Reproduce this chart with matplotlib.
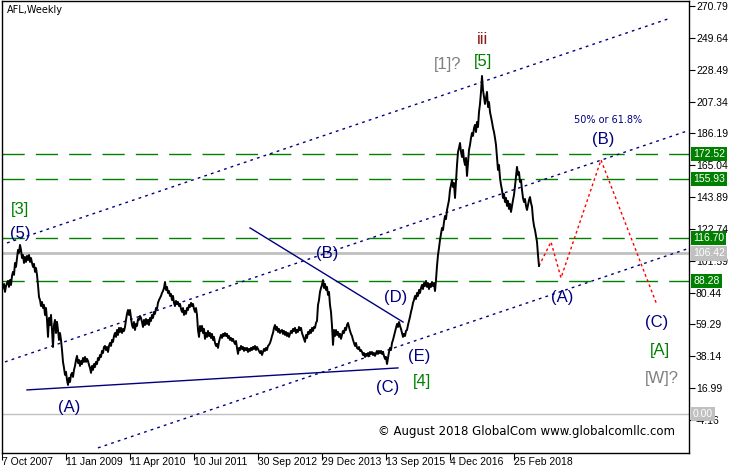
import matplotlib
matplotlib.use('Agg')
import matplotlib.pyplot as plt
import matplotlib.transforms as mtransforms

# weekly closes (one value per bar)
price = [
 82.2, 84.2, 86.2, 80.9, 84.8, 86.8, 88.2, 84.2, 88.8, 85.5, 91.5, 94.2, 92.2, 100.1, 97.5, 103.4, 108.8, 106.8, 112.1, 108.8,
 103.4, 105.4, 100.1, 104.1, 100.8, 104.8, 102.1, 105.4, 100.8, 103.4, 100.1, 97.5, 99.5, 94.2, 96.8, 92.2, 85.5, 77.5, 75.5, 71.5,
 74.2, 70.2, 72.2, 65.6, 70.2, 62.3, 51.0, 63.6, 58.9, 65.6, 55.6, 44.3, 58.9, 62.3, 53.6, 61.0, 55.6, 49.0, 53.6, 49.0,
 42.3, 34.4, 30.4, 25.8, 27.8, 22.4, 19.1, 23.8, 21.1, 25.8, 27.1, 24.4, 29.1, 31.7, 35.7, 38.4, 33.7, 35.7, 31.7, 35.0,
 33.0, 37.0, 34.4, 37.7, 34.4, 36.4, 35.0, 32.4, 30.4, 27.1, 31.7, 29.1, 33.0, 31.0, 34.4, 33.0, 37.0, 35.7, 39.0, 37.7,
 41.7, 40.3, 44.3, 45.0, 42.3, 44.3, 41.0, 45.0, 47.0, 45.0, 49.0, 47.7, 51.6, 53.6, 51.0, 55.6, 52.3, 57.0, 54.3, 57.0,
 53.6, 56.3, 54.9, 57.6, 62.3, 66.3, 68.9, 65.6, 68.9, 63.6, 58.9, 57.0, 60.9, 55.6, 59.6, 58.3, 62.9, 62.3, 64.9,
 63.6,
 60.9, 57.6, 62.3, 58.9, 62.9, 59.6, 62.3, 58.9, 63.6, 61.6, 65.6, 63.6, 67.6, 66.3, 70.2, 69.6, 73.6, 75.5, 76.9, 78.2,
 80.2, 81.5, 83.5, 87.5, 82.2, 84.2, 80.2, 81.5, 78.2, 79.5, 75.5, 78.2, 73.6, 71.5, 74.9, 72.9, 74.2, 71.5, 72.9, 69.6,
 67.6, 70.2, 65.6, 68.2, 66.3, 70.2, 68.9, 72.2, 70.9, 73.6, 71.5, 72.9, 69.6, 67.6, 70.2, 65.6, 55.6, 51.0, 58.3, 55.0,
 58.3, 53.6, 56.3, 49.7, 53.6, 51.0, 55.0, 51.6, 53.6, 50.3, 53.0, 49.0, 51.0, 47.0, 45.0, 46.3, 43.7, 47.7, 50.3, 52.3,
 50.3, 53.0, 51.6, 53.6, 51.6, 53.0, 50.3, 51.6, 49.0, 50.3, 48.3, 49.7, 47.7, 46.3, 48.3, 43.7, 39.7, 43.7, 42.3, 45.0,
 43.0, 44.3, 41.7, 43.7, 42.3, 43.7, 41.0, 43.0, 41.7, 43.7, 42.3, 44.3, 43.0, 45.0, 42.3, 44.3, 43.0, 41.7, 40.3, 41.7,
 39.0, 41.0, 43.0, 41.7, 43.7, 42.3, 45.0, 45.7, 47.0, 49.0, 51.6, 53.6, 57.0, 58.9, 55.6, 57.6, 54.3, 56.3, 53.6,
 55.0,
 55.6, 53.0, 55.0, 52.3, 54.3, 51.6, 53.6, 51.0, 53.0, 55.0, 53.6, 56.3, 55.0, 57.0, 53.6, 55.6, 54.3, 57.6, 55.6, 57.0,
 53.6, 51.6, 49.7, 47.7, 52.3, 50.3, 54.3, 53.0, 55.6, 53.6, 57.0, 55.0, 57.6, 57.0, 60.3, 61.6, 72.2, 75.5, 80.9, 83.5,
 85.5, 88.8, 83.5, 86.2, 82.2, 84.2, 78.9, 80.9, 72.2, 67.6, 58.3, 45.7, 55.6, 51.6, 55.6, 52.3, 54.3, 51.0, 53.0, 49.7,
 52.3, 55.0, 53.6, 57.0, 55.6, 58.9, 60.3, 57.6, 55.0, 53.0, 51.6, 49.0, 47.0, 45.0, 47.0, 43.7, 43.0, 44.3, 41.7, 42.3,
 41.0, 39.0, 40.3, 37.7, 39.7, 38.4, 40.3, 38.4, 41.0, 39.7, 41.0, 39.0, 40.3, 38.4, 40.3, 41.7, 39.7, 41.7, 40.3, 41.7,
 39.7, 41.0, 38.4, 36.4, 37.7, 33.0, 37.0, 41.0, 43.7, 42.3, 47.0, 49.0, 51.6, 54.3, 57.0, 59.6, 57.6, 60.9, 58.3, 56.3,
 53.6, 51.0, 53.0, 51.6, 55.0, 55.6, 58.9, 61.6, 64.3, 67.6, 70.2, 73.6, 75.5, 78.2, 76.2, 80.2, 78.2, 82.2, 80.2, 83.5,
 85.5, 82.8, 86.8, 84.8,
 88.2, 84.2, 86.8, 82.8, 86.2, 84.2, 87.5, 84.8, 86.8, 81.5, 88.8, 98.1, 105.4, 110.1, 115.4, 119.4, 123.4, 122.0, 127.3, 131.3,
 129.3, 135.3, 138.6, 141.9, 148.6, 151.9, 155.2, 150.6, 153.2, 143.3, 153.9, 165.2, 173.8, 176.5, 179.8, 173.8, 170.5, 175.2, 168.5, 165.2,
 169.9, 157.9, 166.5, 175.2, 178.5, 183.1, 186.5, 184.5, 189.8, 191.8, 187.1, 193.8, 190.4, 200.4, 205.7, 213.7, 224.3, 215.0, 210.4, 205.7,
 209.7, 213.7, 203.7, 207.0, 200.4, 197.1, 193.8, 189.8, 187.1, 183.1, 178.5, 169.9, 161.9, 165.2, 156.6, 151.9, 148.6, 143.3, 145.9, 140.6,
 143.3, 138.0, 141.3, 136.0, 139.3, 134.0, 138.0, 141.9, 145.3, 151.2, 157.9, 163.9, 158.6, 160.5, 153.9, 155.2, 148.6, 143.3, 140.6, 142.6,
 138.0, 135.3, 138.6, 141.9, 143.9, 140.0, 137.3, 129.3, 124.7, 122.0, 118.1, 114.1, 105.4, 98.1,
]
bars = list(range(len(price)))

x_tick_pos = [0, 64, 128, 192, 256, 320, 384, 448, 512]
x_tick_labels = ['7 Oct 2007', '11 Jan 2009', '11 Apr 2010', '10 Jul 2011', '30 Sep 2012',
                 '29 Dec 2013', '13 Sep 2015', '4 Dec 2016', '25 Feb 2018']
y_ticks = [270.79, 249.64, 228.49, 207.34, 186.19, 165.04, 143.89, 122.74,
           101.59, 80.44, 59.29, 38.14, 16.99, -4.16]

levels_green = [172.52, 155.93, 116.70, 88.28]
levels_gray = [106.42, 0.00]

chan_upper_x, chan_upper_y = [5, 666], [113.4, 262.2]
chan_mid_x, chan_mid_y = [3, 688], [34.4, 188.4]
chan_low_x, chan_low_y = [96, 688], [-22.7, 110.1]
base_x, base_y = [25, 396], [15.8, 30.4]
bd_x, bd_y = [248, 401], [123.4, 60.9]
proj_x = [537, 549, 559, 599, 655]
proj_y = [98.1, 114.1, 90.2, 168.5, 72.2]

NAVY = '#000080'
GREEN = '#008000'
GRAY = '#808080'
labels = [
    ('[3]', 18, 135.3, GREEN), ('(5)', 18, 120.0, NAVY), ('(A)', 67, 3.8, NAVY),
    ('(B)', 325, 106.1, NAVY), ('(C)', 386, 17.1, NAVY), ('(D)', 394, 76.9, NAVY),
    ('(E)', 417, 37.7, NAVY), ('[4]', 420, 21.1, GREEN), ('[1]?', 446, 231.6, GRAY),
    ('[5]', 481, 233.6, GREEN), ('iii', 481, 248.2, '#8b1a1a'), ('(B)', 601, 181.8, NAVY),
    ('(A)', 560, 76.9, NAVY), ('(C)', 655, 60.3, NAVY), ('[A]', 658, 42.3, GREEN),
    ('[W]?', 660, 23.7, GRAY),
]

TICKFONT = 'Liberation Sans'

fig = plt.figure(figsize=(7.32, 4.70), dpi=100)
ax = fig.add_axes([2/732, 1 - 453/470, 687/732, 452/470])
ax.set_xlim(0, 687)
ax.set_ylim(-26.1, 274.1)

for lv in levels_green:
    ax.axhline(lv, color=GREEN, lw=1, ls=(0, (16, 8)), zorder=1)
for lv in levels_gray:
    ax.axhline(lv, color='#c0c0c0', lw=2 if lv > 0 else 1, zorder=1)

dot = (0, (2, 3))
ax.plot(chan_upper_x, chan_upper_y, color=NAVY, lw=1, ls=dot, zorder=2)
ax.plot(chan_mid_x, chan_mid_y, color=NAVY, lw=1, ls=dot, zorder=2)
ax.plot(chan_low_x, chan_low_y, color=NAVY, lw=1, ls=dot, zorder=2)
ax.plot(base_x, base_y, color=NAVY, lw=1, zorder=2)
ax.plot(bd_x, bd_y, color=NAVY, lw=1, zorder=2)
ax.plot(proj_x, proj_y, color='red', lw=1, ls=(0, (2, 2)), zorder=2)

ax.plot(bars, price, color='black', lw=1.4, zorder=3)

for t, x, y, c in labels:
    ax.text(x, y, t, color=c, fontsize=12, ha='center', va='center',
            family='Liberation Sans', zorder=4)
ax.text(606, 195.1, '50% or 61.8%', color=NAVY, fontsize=7, ha='center', va='center',
        family='DejaVu Sans')
ax.text(525, -11.5, '\u00a9 August 2018 GlobalCom www.globalcomllc.com', color='black',
        fontsize=8.5, ha='center', va='center', family='DejaVu Sans')
fig.text(7/732, 1 - 10/470, 'AFL,Weekly', fontsize=7, ha='left', va='center', family='DejaVu Sans')

ax.set_xticks(x_tick_pos)
ax.set_xticklabels(x_tick_labels, ha='left', family=TICKFONT)
offset = mtransforms.ScaledTranslation(2/100, 0, fig.dpi_scale_trans)
for lab in ax.get_xticklabels():
    lab.set_transform(lab.get_transform() + offset)
ax.tick_params(axis='x', direction='out', length=5, pad=-2, labelsize=7.5)

ax.yaxis.tick_right()
ax.set_yticks(y_ticks)
ax.set_yticklabels(['%.2f' % v for v in y_ticks], family=TICKFONT)
ax.tick_params(axis='y', direction='out', length=4, pad=1, labelsize=7.5)

tr = mtransforms.blended_transform_factory(ax.transAxes, ax.transData)
for lv in levels_green:
    ax.text(1.006, lv, '%.2f' % lv, transform=tr, ha='left', va='center', fontsize=7.5,
            family=TICKFONT, color='white',
            bbox=dict(boxstyle='square,pad=0.2', fc=GREEN, ec='none'), zorder=5)
for lv in levels_gray:
    ax.text(1.006, lv, '%.2f' % lv, transform=tr, ha='left', va='center', fontsize=7.5,
            family=TICKFONT, color='white',
            bbox=dict(boxstyle='square,pad=0.2', fc='#c0c0c0', ec='none'), zorder=5)

for s in ax.spines.values():
    s.set_linewidth(1)

fig.savefig('out.png', dpi=100)
